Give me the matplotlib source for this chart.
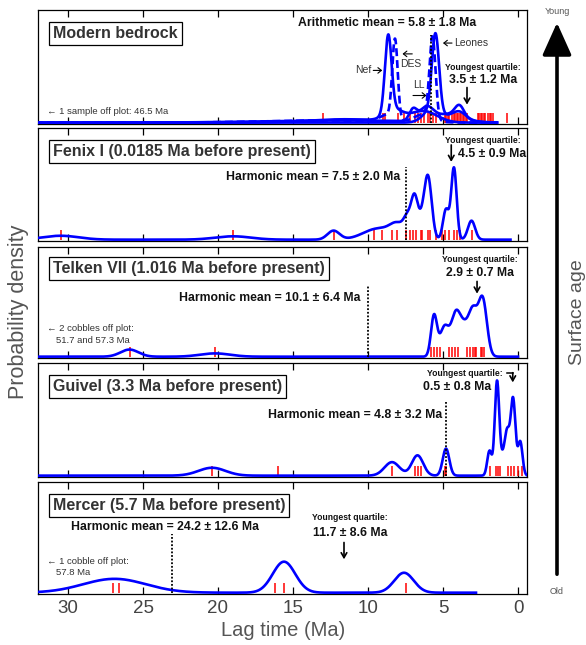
import numpy as np
import matplotlib
matplotlib.use("Agg")
import matplotlib.pyplot as plt

plt.rcParams['font.family'] = ['Liberation Sans', 'DejaVu Sans']

W, H = 586, 645

# ---- data (lag times in Ma, peak components) ----
panel_titles = ["Modern bedrock",
                "Fenix I (0.0185 Ma before present)",
                "Telken VII (1.016 Ma before present)",
                "Guivel (3.3 Ma before present)",
                "Mercer (5.7 Ma before present)"]

# modern bedrock: several catchment curves (center, height, width)
nef_peaks = [(8.65, 0.68, 0.22), (8.3, 0.10, 0.6), (11.5, 0.03, 2.5), (6.3, 0.10, 0.9)]
des_peaks = [(8.2, 0.70, 0.18), (8.7, 0.06, 0.5), (5.7, 0.72, 0.2), (6.3, 0.07, 0.6), (13.0, 0.02, 4.0)]
ll_peaks = [(7.0, 0.10, 0.25), (6.1, 0.12, 0.45), (3.9, 0.10, 0.3), (4.6, 0.07, 0.9), (12.0, 0.02, 5.0)]
leones_peaks = [(5.5, 0.70, 0.24), (5.9, 0.08, 0.5), (3.9, 0.05, 0.4), (4.5, 0.06, 1.0)]
modern_ages = [13.0, 9.0, 8.9, 8.0, 7.6, 7.2, 6.9, 6.7, 6.5, 6.3, 6.0, 5.9, 5.7, 5.5,
               4.9, 4.8, 4.7, 4.6, 4.4, 4.3, 4.2, 4.1, 4.0, 3.9, 3.8, 3.7, 3.6, 3.5, 3.4,
               2.7, 2.6, 2.5, 2.4, 2.3, 2.2, 2.0, 1.9, 1.8, 1.7, 0.75]

fenix_peaks = [(30.5, 0.035, 1.2), (19.0, 0.03, 1.2), (12.3, 0.08, 0.4), (9.3, 0.10, 1.0),
               (8.0, 0.11, 0.5), (7.35, 0.15, 0.25), (6.9, 0.34, 0.22), (6.45, 0.14, 0.25),
               (6.0, 0.55, 0.25), (4.8, 0.27, 0.2), (4.27, 0.64, 0.18), (3.1, 0.17, 0.24)]
fenix_ages = [30.5, 19.0, 12.3, 9.6, 9.1, 8.4, 8.1, 7.5, 7.2, 7.0, 6.8, 6.5, 6.4, 6.0, 5.9,
              5.5, 5.1, 4.9, 4.6, 4.3, 4.1, 3.9, 3.1]

telken_peaks = [(25.9, 0.065, 0.6), (20.2, 0.03, 1.0), (5.6, 0.37, 0.2), (4.9, 0.27, 0.3),
                (4.15, 0.37, 0.3), (3.6, 0.22, 0.3), (3.0, 0.40, 0.3), (2.35, 0.51, 0.28)]
telken_ages = [25.9, 20.2, 5.8, 5.6, 5.4, 5.2, 4.6, 4.4, 4.2, 4.0, 3.4, 3.2, 3.0, 2.9,
               2.8, 2.5, 2.4, 2.3]

guivel_peaks = [(20.4, 0.07, 0.9), (8.4, 0.12, 0.5), (6.7, 0.18, 0.38), (4.8, 0.24, 0.22),
                (1.9, 0.22, 0.15), (1.4, 0.83, 0.15), (0.95, 0.18, 0.2), (0.7, 0.30, 0.15),
                (0.33, 0.68, 0.16), (-0.15, 0.30, 0.15)]
guivel_ages = [20.4, 16.0, 8.4, 6.9, 6.7, 6.5, 4.9, 4.8, 1.9, 1.5, 1.35, 1.2, 0.7, 0.5,
               0.3, 0.0, -0.25]

mercer_peaks = [(26.9, 0.125, 2.1), (15.6, 0.28, 0.75), (7.6, 0.18, 0.65)]
mercer_ages = [27.0, 26.6, 16.2, 15.6, 7.5]

curve_ends = [1.4, 0.5, 0.0, -0.6, 2.8]
mean_lines = [5.8, 7.45, 10.0, 4.8, 23.1]
mean_tops = [0.78, 0.65, 0.64, 0.65, 0.53]

xticks = [0, 5, 10, 15, 20, 25, 30]

# panel pixel extents (top, bottom)
panels_px = [(10, 124), (128, 241), (247, 358), (363, 477), (482, 594)]
left_px, right_px = 38, 527


def pdp(x, peaks):
    y = np.zeros_like(x)
    for c, h, w in peaks:
        y += h * np.exp(-0.5 * ((x - c) / w) ** 2)
    return y


fig = plt.figure(figsize=(W / 100, H / 100), dpi=100)
axes = []
for top, bot in panels_px:
    ax = fig.add_axes([left_px / W, 1 - bot / H, (right_px - left_px) / W, (bot - top) / H])
    ax.set_xlim(32, -0.6)
    ax.set_ylim(-0.012, 1)
    ax.set_yticks([])
    ax.set_xticks(xticks)
    ax.tick_params(axis='x', direction='in', top=True, length=5, width=0.9,
                   labelsize=13.5, labelcolor='#444444', pad=4)
    for s in ax.spines.values():
        s.set_linewidth(0.9)
    axes.append(ax)
for ax in axes[:-1]:
    ax.tick_params(labelbottom=False)

blue = '#0000ff'
lw = 1.9
red_h = 0.09

all_ages = [modern_ages, fenix_ages, telken_ages, guivel_ages, mercer_ages]
for ax, ages in zip(axes, all_ages):
    ax.vlines(ages, 0, red_h, color='red', lw=1.1, zorder=2)

# curves
ax = axes[0]
x = np.linspace(33, curve_ends[0], 2000)
ax.plot(x, pdp(x, nef_peaks), color=blue, lw=lw, zorder=3)
ax.plot(x, pdp(x, des_peaks), color=blue, lw=lw, ls=(0, (3, 1.5)), zorder=3)
ax.plot(x, pdp(x, ll_peaks), color=blue, lw=lw, zorder=3)
ax.plot(x, pdp(x, leones_peaks), color=blue, lw=lw, zorder=3)

for i, peaks in enumerate([fenix_peaks, telken_peaks, guivel_peaks, mercer_peaks], start=1):
    x = np.linspace(33, curve_ends[i], 2000)
    axes[i].plot(x, pdp(x, peaks), color=blue, lw=lw, zorder=3)

for ax, m, t in zip(axes, mean_lines, mean_tops):
    ax.plot([m, m], [0, t], color='black', lw=1.3, ls=(0, (1, 1)), zorder=4)

# panel labels
label_y = [0.79, 0.79, 0.81, 0.79, 0.79]
for ax, title, yy in zip(axes, panel_titles, label_y):
    ax.text(31.0, yy, title, transform=ax.get_xaxis_transform(), ha='left', va='center',
            fontsize=11.5, fontweight='bold', color='#333333',
            bbox=dict(boxstyle='square,pad=0.25', fc='white', ec='black', lw=0.9))

bold = dict(fontweight='bold', color='#111111')
small = dict(fontsize=6.2, ha='center', va='center', **bold)
big = dict(fontsize=8.8, ha='center', va='center', **bold)
note = dict(fontsize=6.8, ha='left', va='center', color='#333333')
lab = dict(fontsize=7.5, va='center', color='#333333')


def t(ax, xm, yf, s, **kw):
    ax.text(xm, yf, s, transform=ax.get_xaxis_transform(), **kw)


def arrow(ax, x0, y0, x1, y1, lw=1.2, head=0.35):
    tr = ax.get_xaxis_transform()
    ax.annotate('', xy=(x1, y1), xytext=(x0, y0), xycoords=tr, textcoords=tr,
                arrowprops=dict(arrowstyle='->,head_length=%s,head_width=0.2' % head,
                                lw=lw, color='black', shrinkA=0, shrinkB=0))


# panel 1 annotations
ax = axes[0]
t(ax, 8.73, 0.886, "Arithmetic mean = 5.8 ± 1.8 Ma", **big)
t(ax, 9.75, 0.47, "Nef", ha='right', **lab)
arrow(ax, 9.65, 0.47, 9.05, 0.47, lw=0.8, head=0.25)
arrow(ax, 7.05, 0.615, 7.7, 0.615, lw=0.8, head=0.25)
t(ax, 7.13, 0.53, "DES", ha='center', **lab)
t(ax, 6.62, 0.34, "LL", ha='center', **lab)
arrow(ax, 7.0, 0.25, 6.1, 0.25, lw=0.8, head=0.25)
arrow(ax, 4.4, 0.71, 5.0, 0.71, lw=0.8, head=0.25)
t(ax, 4.28, 0.71, "Leones", ha='left', **lab)
t(ax, 2.33, 0.50, "Youngest quartile:", **small)
t(ax, 2.33, 0.386, "3.5 ± 1.2 Ma", **big)
arrow(ax, 3.4, 0.32, 3.4, 0.17)
t(ax, 31.4, 0.114, "← 1 sample off plot: 46.5 Ma", **note)

# panel 2
ax = axes[1]
t(ax, 7.87, 0.57, "Harmonic mean = 7.5 ± 2.0 Ma", fontsize=8.8, ha='right', va='center', **bold)
t(ax, 2.33, 0.89, "Youngest quartile:", **small)
arrow(ax, 4.45, 0.85, 4.45, 0.70)
t(ax, 1.75, 0.77, "4.5 ± 0.9 Ma", **big)

# panel 3
ax = axes[2]
t(ax, 10.53, 0.54, "Harmonic mean = 10.1 ± 6.4 Ma", fontsize=8.8, ha='right', va='center', **bold)
t(ax, 2.53, 0.89, "Youngest quartile:", **small)
t(ax, 2.53, 0.77, "2.9 ± 0.7 Ma", **big)
arrow(ax, 2.73, 0.69, 2.73, 0.58)
t(ax, 31.4, 0.27, "← 2 cobbles off plot:", **note)
t(ax, 30.8, 0.16, "51.7 and 57.3 Ma", **note)

# panel 4
ax = axes[3]
t(ax, 5.07, 0.54, "Harmonic mean = 4.8 ± 3.2 Ma", fontsize=8.8, ha='right', va='center', **bold)
t(ax, 1.0, 0.91, "Youngest quartile:", fontsize=6.2, ha='right', va='center', **bold)
ax.plot([0.75, 0.35], [0.91, 0.91], color='black', lw=1.1, transform=ax.get_xaxis_transform())
arrow(ax, 0.35, 0.915, 0.35, 0.83)
t(ax, 4.07, 0.79, "0.5 ± 0.8 Ma", **big)

# panel 5
ax = axes[4]
t(ax, 23.53, 0.60, "Harmonic mean = 24.2 ± 12.6 Ma", **big)
t(ax, 11.2, 0.68, "Youngest quartile:", **small)
t(ax, 11.2, 0.545, "11.7 ± 8.6 Ma", **big)
arrow(ax, 11.6, 0.46, 11.6, 0.31)
t(ax, 31.4, 0.286, "← 1 cobble off plot:", **note)
t(ax, 30.8, 0.19, "57.8 Ma", **note)

# figure-level labels and surface-age arrow
over = fig.add_axes([0, 0, 1, 1], facecolor='none')
over.set_xlim(0, W)
over.set_ylim(H, 0)
over.axis('off')
over.annotate('', xy=(557, 20), xytext=(557, 577),
              arrowprops=dict(arrowstyle='-|>,head_length=1.0,head_width=0.45', lw=2.6,
                              color='black', mutation_scale=20))
over.text(557, 11, "Young", fontsize=6.5, ha='center', va='center', color='#555555')
over.text(557, 592, "Old", fontsize=6.5, ha='center', va='center', color='#555555')
over.text(578, 312, "Surface age", fontsize=14, rotation=90, ha='center', va='center', color='#555555')
over.text(19, 312, "Probability density", fontsize=15.5, rotation=90, ha='center', va='center', color='#555555')
over.text(283, 630, "Lag time (Ma)", fontsize=14.5, ha='center', va='center', color='#555555')

fig.savefig("out.png", dpi=100)
